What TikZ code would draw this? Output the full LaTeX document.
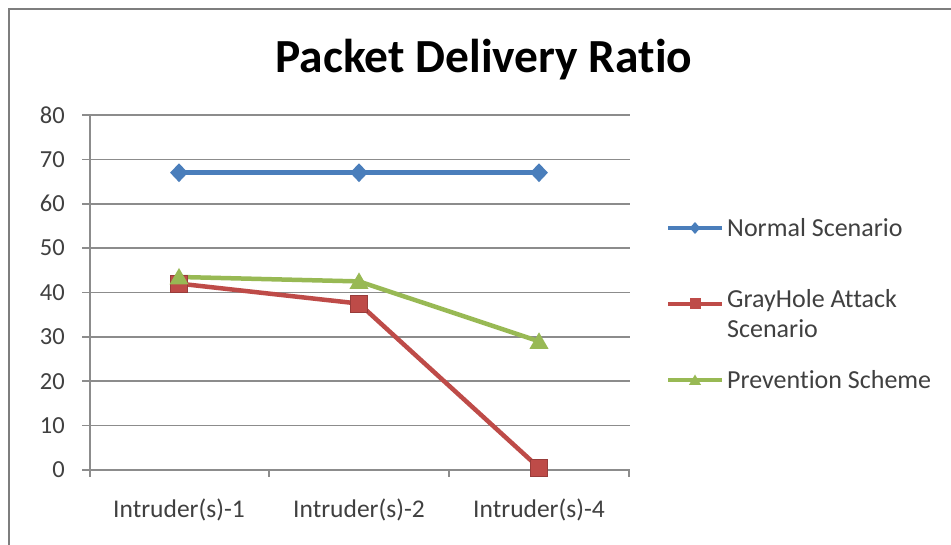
\documentclass[tikz,border=0pt]{standalone}
\usepackage{fontspec}
\setmainfont{Carlito}[Ligatures={NoCommon}]
\usetikzlibrary{shapes.geometric}
\definecolor{sblue}{HTML}{4A7EBB}
\definecolor{sred}{HTML}{BE4B48}
\definecolor{sgreen}{HTML}{98B954}
\definecolor{grid}{HTML}{8C8C8C}
\definecolor{lbl}{HTML}{404040}
\begin{document}
\begin{tikzpicture}[x=1pt,y=-1pt,
  gridline/.style={grid,line width=1.6pt},
  frameline/.style={draw=grid!90!black,line width=2pt},
  ylbl/.style={anchor=east,text=lbl,font=\fontsize{24.5}{28}\selectfont,inner sep=0pt},
  xlbl/.style={anchor=center,text=lbl,font=\fontsize{25.5}{30}\selectfont,inner sep=0pt},
  leglbl/.style={anchor=west,text=lbl,font=\fontsize{26}{30}\selectfont,inner sep=0pt,align=left},
  series/.style={line width=4.5pt,line join=round},
  dmark/.style={diamond,fill=sblue,inner sep=0pt,minimum width=18pt,minimum height=19pt},
  smark/.style={rectangle,fill=sred,draw=sred!80!black,line width=0.6pt,inner sep=0pt,minimum size=17pt},
  tmark/.style={regular polygon,regular polygon sides=3,fill=sgreen,inner sep=0pt,minimum size=22pt},
  dmarks/.style={diamond,fill=sblue,inner sep=0pt,minimum width=11pt,minimum height=12pt},
  smarks/.style={rectangle,fill=sred,inner sep=0pt,minimum size=11pt},
  tmarks/.style={regular polygon,regular polygon sides=3,fill=sgreen,inner sep=0pt,minimum size=14pt}
]
\useasboundingbox (0,0) rectangle (951,545);
\fill[white] (0,0) rectangle (951,545);
% frame
\draw[frameline] (9,545) -- (9,9) -- (951,9);
% title
\node[font=\bfseries\fontsize{47.5}{52}\selectfont,inner sep=0pt] (title) at (484,60) {Packet Delivery Ratio};
% gridlines and y labels
\foreach \v in {0,10,...,80}{
  \draw[gridline] (82,{470-4.4375*\v}) -- (630,{470-4.4375*\v});
  \node[ylbl] (y\v) at (65,{470-4.4375*\v}) {\v};
}
% y axis
\draw[gridline] (90,115) -- (90,477);
% x ticks
\foreach \x in {269,449,629}{ \draw[gridline] (\x,470) -- (\x,477); }
% category labels
\node[xlbl] (c1) at (179,510) {Intruder(s)-1};
\node[xlbl] (c2) at (359,510) {Intruder(s)-2};
\node[xlbl] (c3) at (539,510) {Intruder(s)-4};
% data coordinates
\coordinate (n1) at (179,{470-4.4375*67});
\coordinate (n2) at (359,{470-4.4375*67});
\coordinate (n3) at (539,{470-4.4375*67});
\coordinate (g1) at (179,{470-4.4375*42});
\coordinate (g2) at (359,{470-4.4375*37.5});
\coordinate (g3) at (539,{470-4.4375*0.5});
\coordinate (p1) at (179,{470-4.4375*43.5});
\coordinate (p2) at (359,{470-4.4375*42.5});
\coordinate (p3) at (539,{470-4.4375*29});
% series lines
\draw[series,sblue] (n1) -- (n2) -- (n3);
\draw[series,sred] (g1) -- (g2) -- (g3);
\draw[series,sgreen] (p1) -- (p2) -- (p3);
% markers
\foreach \p in {n1,n2,n3}{ \node[dmark] at (\p) {}; }
\foreach \p in {g1,g2,g3}{ \node[smark] at (\p) {}; }
\foreach \p in {p1,p2,p3}{ \node[tmark,yshift=-2pt] at (\p) {}; }
% legend
\coordinate (l1a) at (668,228); \coordinate (l1b) at (722,228);
\coordinate (l2a) at (668,304); \coordinate (l2b) at (722,304);
\coordinate (l3a) at (668,380); \coordinate (l3b) at (722,380);
\draw[sblue,line width=3.5pt] (l1a) -- (l1b);
\draw[sred,line width=3.5pt] (l2a) -- (l2b);
\draw[sgreen,line width=3.5pt] (l3a) -- (l3b);
\node[dmarks] (lm1) at (695,228) {};
\node[smarks] (lm2) at (695,304) {};
\node[tmarks,yshift=-1.5pt] (lm3) at (695,380) {};
\node[leglbl] (lt1) at (727,228) {Normal Scenario};
\node[leglbl,anchor=north west] (lt2) at (727,289) {GrayHole Attack\\Scenario};
\node[leglbl] (lt3) at (727,380) {Prevention Scheme};
\end{tikzpicture}
\end{document}
